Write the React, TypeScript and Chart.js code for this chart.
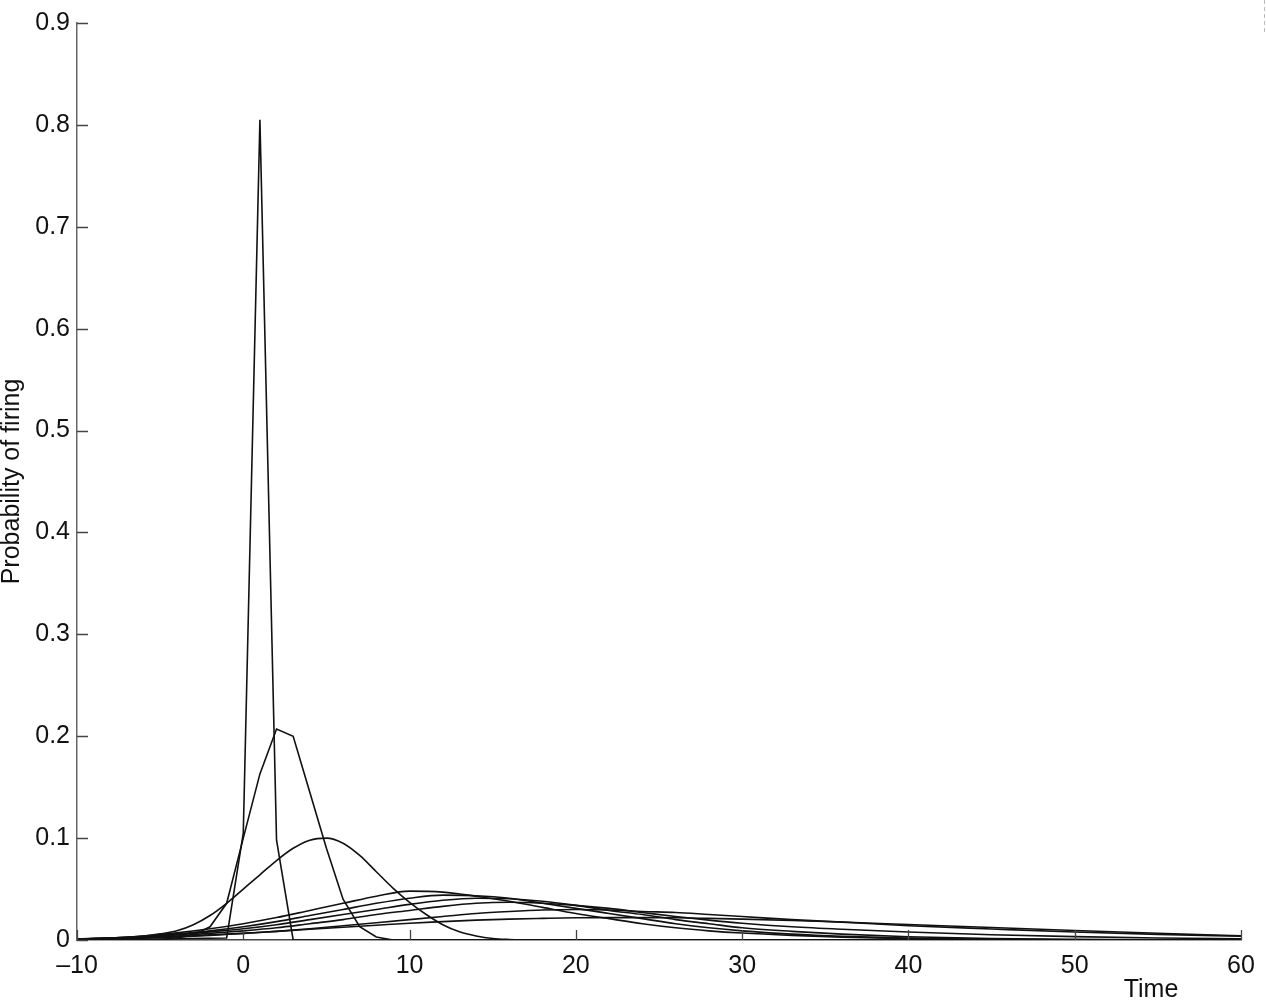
import React, { useEffect, useRef } from "react";
import { Chart, registerables } from "chart.js";

Chart.register(...registerables);

// ---- tick values ----
const xTickValues = [-10, 0, 10, 20, 30, 40, 50, 60];
const yTickValues = [0, 0.1, 0.2, 0.3, 0.4, 0.5, 0.6, 0.7, 0.8, 0.9];

// ---- sharp spike (peak at t = 1) ----
const spikeTime = [-10, -1, 0, 1, 2, 3, 60];
const spikeProb = [0, 0.002, 0.105, 0.805, 0.098, 0.0, 0];

// ---- second curve (peak ~0.207 at t = 2) ----
const curve2Time = [-10, -5, -4, -3, -2, -1, 0, 1, 2, 3, 4, 5, 6, 7, 8, 9, 60];
const curve2Prob = [0, 0, 0.002, 0.005, 0.013, 0.036, 0.1, 0.163, 0.207, 0.2, 0.145, 0.09, 0.04, 0.013, 0.003, 0, 0];

// ---- third curve (peak ~0.1 at t = 5) ----
const curve3Time = [-10, -8, -6, -5, -4, -3, -2, -1, 0, 1, 2, 3, 4, 5, 6, 7, 8, 9, 10, 11, 12, 13, 14, 15, 16, 17, 60];
const curve3Prob = [0.001, 0.002, 0.004, 0.006, 0.009, 0.015, 0.024, 0.036, 0.05, 0.064, 0.078, 0.09, 0.098, 0.1, 0.095, 0.083, 0.067, 0.051, 0.037, 0.025, 0.015, 0.008, 0.004, 0.0015, 0.0005, 0, 0];

// ---- broad curves share one time grid ----
const broadTime = [-10, -8, -6, -4, -2, 0, 2, 4, 6, 8, 10, 12, 14, 16, 18, 20, 22, 24, 26, 28, 30, 33, 36, 40, 45, 50, 55, 60];
const broadA = [0.001, 0.002, 0.004, 0.007, 0.011, 0.016, 0.022, 0.029, 0.036, 0.043, 0.048, 0.047, 0.043, 0.038, 0.032, 0.026, 0.021, 0.016, 0.012, 0.009, 0.0068, 0.0045, 0.0028, 0.0013, 0.0004, 0.0001, 0, 0];
const broadB = [0.001, 0.002, 0.0035, 0.006, 0.009, 0.013, 0.018, 0.024, 0.03, 0.036, 0.041, 0.044, 0.0435, 0.041, 0.036, 0.031, 0.026, 0.021, 0.016, 0.012, 0.009, 0.0058, 0.0036, 0.0018, 0.0007, 0.0002, 0.0001, 0];
const broadC = [0.001, 0.0018, 0.003, 0.005, 0.008, 0.011, 0.015, 0.02, 0.025, 0.03, 0.035, 0.039, 0.041, 0.0405, 0.038, 0.034, 0.029, 0.025, 0.02, 0.016, 0.012, 0.0085, 0.0058, 0.0032, 0.0014, 0.0006, 0.0002, 0.0001];
const broadD = [0.0008, 0.0015, 0.0025, 0.004, 0.0065, 0.009, 0.012, 0.016, 0.02, 0.025, 0.029, 0.033, 0.036, 0.037, 0.036, 0.034, 0.031, 0.027, 0.023, 0.0195, 0.0165, 0.013, 0.0105, 0.0078, 0.0052, 0.0033, 0.002, 0.0012];
const broadE = [0.0006, 0.001, 0.0018, 0.003, 0.0045, 0.0065, 0.0085, 0.011, 0.014, 0.017, 0.02, 0.023, 0.026, 0.028, 0.0295, 0.03, 0.0295, 0.028, 0.027, 0.025, 0.023, 0.02, 0.0175, 0.014, 0.0108, 0.0078, 0.0055, 0.0037];
const broadF = [0.001, 0.0015, 0.0025, 0.0035, 0.005, 0.0065, 0.0085, 0.0105, 0.0125, 0.0145, 0.0165, 0.018, 0.0195, 0.0205, 0.0212, 0.0218, 0.022, 0.022, 0.0218, 0.0212, 0.0205, 0.0192, 0.0176, 0.0152, 0.0122, 0.0093, 0.0066, 0.0042];

const FONT = "'Liberation Sans', Arial, Helvetica, sans-serif";
const FONT_SIZE = 25;

export default function App() {
  const canvasRef = useRef<HTMLCanvasElement | null>(null);

  useEffect(() => {
    if (!canvasRef.current) return;

    const series: [number[], number[], boolean][] = [
      [spikeTime, spikeProb, false],
      [curve2Time, curve2Prob, false],
      [curve3Time, curve3Prob, true],
      [broadTime, broadA, true],
      [broadTime, broadB, true],
      [broadTime, broadC, true],
      [broadTime, broadD, true],
      [broadTime, broadE, true],
      [broadTime, broadF, true],
    ];

    const datasets = series.map(([t, p, smooth]) => ({
      data: t.map((x, i) => ({ x, y: p[i] })),
      borderColor: "#111",
      borderWidth: 1.6,
      pointRadius: 0,
      fill: false,
      tension: 0,
      cubicInterpolationMode: smooth ? ("monotone" as const) : ("default" as const),
    }));

    const inwardTicks = {
      id: "inwardTicks",
      afterDraw(chart: any) {
        const { ctx, chartArea, scales } = chart;
        const xs = scales.x;
        const ys = scales.y;
        ctx.save();
        ctx.strokeStyle = "#444";
        ctx.lineWidth = 1.3;
        ctx.beginPath();
        xTickValues.forEach((v) => {
          const px = Math.round(xs.getPixelForValue(v)) + 0.5;
          ctx.moveTo(px, chartArea.bottom);
          ctx.lineTo(px, chartArea.bottom - 10);
        });
        yTickValues.forEach((v) => {
          const py = Math.round(ys.getPixelForValue(v)) + 0.5;
          ctx.moveTo(chartArea.left, py);
          ctx.lineTo(chartArea.left + 11, py);
        });
        ctx.stroke();

        // x axis title at lower right
        ctx.fillStyle = "#111";
        ctx.font = `${FONT_SIZE}px ${FONT}`;
        ctx.textAlign = "center";
        ctx.textBaseline = "alphabetic";
        ctx.fillText("Time", chartArea.right - 90, chartArea.bottom + 57);

        // faint dashed crop mark at top right
        ctx.strokeStyle = "#bbb";
        ctx.lineWidth = 1;
        ctx.setLineDash([4, 3]);
        ctx.beginPath();
        ctx.moveTo(chart.width - 1.5, 0);
        ctx.lineTo(chart.width - 1.5, 35);
        ctx.stroke();
        ctx.restore();
      },
    };

    const chart = new Chart(canvasRef.current, {
      type: "line",
      data: { datasets: datasets as any },
      options: {
        animation: false,
        responsive: true,
        maintainAspectRatio: false,
        layout: { padding: { top: 23, right: 25, left: 0, bottom: 0 } },
        plugins: {
          legend: { display: false },
          tooltip: { enabled: false },
        },
        scales: {
          x: {
            type: "linear",
            min: -10,
            max: 60,
            afterBuildTicks: (scale: any) => {
              scale.ticks = xTickValues.map((value) => ({ value }));
            },
            afterFit: (scale: any) => {
              scale.height = 60;
            },
            grid: { display: false, drawTicks: false },
            border: { display: true, color: "#444", width: 1.5 },
            ticks: {
              padding: 11,
              color: "#111",
              font: { family: FONT, size: FONT_SIZE },
              maxRotation: 0,
              autoSkip: false,
              callback: (v: any) => (Number(v) < 0 ? "\u2013" + Math.abs(Number(v)) : String(v)),
            },
          },
          y: {
            type: "linear",
            min: 0,
            max: 0.9,
            afterBuildTicks: (scale: any) => {
              scale.ticks = yTickValues.map((value) => ({ value }));
            },
            afterFit: (scale: any) => {
              scale.width = 77;
            },
            grid: { display: false, drawTicks: false },
            border: { display: true, color: "#666", width: 1.5 },
            title: {
              display: true,
              text: "Probability of firing",
              color: "#111",
              font: { family: FONT, size: FONT_SIZE, lineHeight: 1.0 },
              padding: 0,
            },
            ticks: {
              padding: 7,
              color: "#111",
              font: { family: FONT, size: FONT_SIZE },
              autoSkip: false,
              callback: (v: any) => (Number(v) === 0 ? "0" : Number(v).toFixed(1)),
            },
          },
        },
      },
      plugins: [inwardTicks],
    });

    return () => chart.destroy();
  }, []);

  return (
    <div
      style={{
        position: "fixed",
        left: 0,
        top: 0,
        width: 1266,
        height: 1000,
        background: "#fff",
      }}
    >
      <canvas ref={canvasRef} />
    </div>
  );
}
